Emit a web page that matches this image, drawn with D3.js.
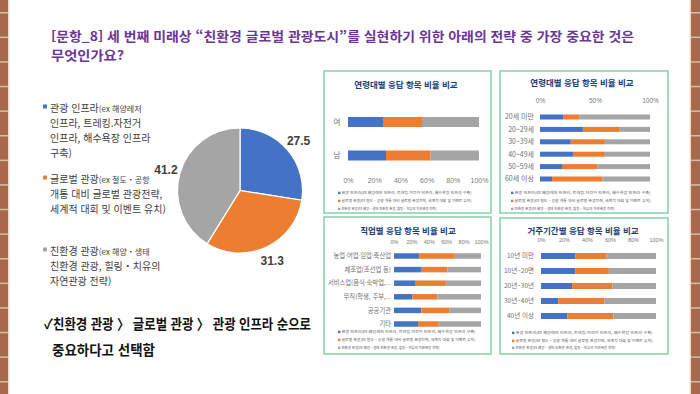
<!DOCTYPE html>
<html lang="ko">
<head>
<meta charset="UTF-8">
<script src="https://d3js.org/d3.v7.min.js"></script>
<style>
    body { margin: 0; background: #fff; }
    svg { display: block; font-family: "Noto Sans CJK KR", "Noto Sans", sans-serif; }
</style>
</head>
<body>
<svg id="slide" width="700" height="394"></svg>
<script>
// ---- data ----
const seriesKeys = ["infra", "global", "eco"];
const seriesColors = ["#4472c4", "#ed7d31", "#a5a5a5"];
const seriesNames = ["관광 인프라", "글로벌 관광", "친환경 관광"];
const seriesSmallLegend = [
    "관광 인프라(ex 해양레저 인프라, 트레킹.자전거 인프라, 해수욕장 인프라 구축)",
    "글로벌 관광(ex 철도・공항 개통 대비 글로벌 관광전략, 세계적 대회 및 이벤트 유치)",
    "친환경 관광(ex 해양・생태 친환경 관광, 힐링・치유의 자연관광 전략)"
];
const legendLines = [
    [["관광 인프라", "(ex 해양레저"], ["인프라, 트레킹.자전거"], ["인프라, 해수욕장 인프라"], ["구축)"]],
    [["글로벌 관광", "(ex 철도・공항"], ["개통 대비 글로벌 관광전략,"], ["세계적 대회 및 이벤트 유치)"]],
    [["친환경 관광", "(ex 해양・생태"], ["친환경 관광, 힐링・치유의"], ["자연관광 전략)"]]
];
const pieValues = [27.5, 31.3, 41.2];

const genderCats = ["여", "남"];
const genderInfra = [26.7, 29];
const genderGlobal = [29.8, 34];
const genderEco = [43.5, 37];

const ageCats = ["20세 미만", "20~29세", "30~39세", "40~49세", "50~59세", "60세 이상"];
const ageInfra = [21, 39, 28, 30, 20, 11];
const ageGlobal = [15, 33.5, 31, 29, 32, 45.5];
const ageEco = [64, 27.5, 41, 41, 48, 43.5];

const jobCats = ["농업·어업·임업·축산업", "제조업(조선업 등)", "서비스업(음식·숙박업,...", "무직(학생, 주부,...", "공공기관", "기타"];
const jobInfra = [29, 31, 25, 21, 31.5, 27.7];
const jobGlobal = [41, 30.5, 34.6, 29, 32.5, 23.8];
const jobEco = [30, 38.5, 40.4, 50, 36, 48.5];

const stayCats = ["10년 미만", "10년~20면", "20년~30년", "30년~40년", "40년 이상"];
const stayInfra = [30, 30, 27, 15, 23];
const stayGlobal = [27, 29, 35, 40, 40];
const stayEco = [43, 41, 38, 45, 37];

const ticks5 = [0, 20, 40, 60, 80, 100];
const ticks2 = [0, 50, 100];

const svg = d3.select("#slide");

// ---- brick side strips ----
[[0, 8], [691, 9]].forEach(([x, w]) => {
    svg.append("rect").attr("x", x).attr("y", 0).attr("width", w).attr("height", 394).attr("fill", "#a7694a");
    svg.selectAll(null).data(d3.range(12, 394, 24.6)).enter().append("rect")
        .attr("x", x).attr("y", d => d).attr("width", w).attr("height", 1.5).attr("fill", "#d9bca8");
});
svg.append("rect").attr("x", 8).attr("y", 0).attr("width", 1.5).attr("height", 394).attr("fill", "#f4dccb");
svg.append("rect").attr("x", 689.5).attr("y", 0).attr("width", 1.5).attr("height", 394).attr("fill", "#f4dccb");

// ---- title ----
const title = svg.append("g").attr("fill", "#6b3599").attr("font-weight", "bold").attr("font-size", 13);
title.append("text").attr("x", 51).attr("y", 41)
    .attr("textLength", 583).attr("lengthAdjust", "spacingAndGlyphs")
    .text("[문항_8] 세 번째 미래상 “친환경 글로벌 관광도시”를 실현하기 위한 아래의 전략 중 가장 중요한 것은");
title.append("text").attr("x", 51).attr("y", 60)
    .attr("textLength", 73).attr("lengthAdjust", "spacingAndGlyphs")
    .text("무엇인가요?");

// ---- left legend ----
const legendTop = [108, 179, 251];
legendLines.forEach((lines, i) => {
    svg.append("rect").attr("x", 43).attr("y", legendTop[i] - 3.5).attr("width", 4).attr("height", 4)
        .attr("fill", seriesColors[i]);
    lines.forEach((parts, j) => {
        const t = svg.append("text").attr("x", 50).attr("y", legendTop[i] + 3.5 + j * 15)
            .attr("font-size", 10).attr("fill", "#404040");
        t.append("tspan").text(parts[0]);
        if (parts[1]) t.append("tspan").attr("font-size", 8).text(parts[1]);
    });
});

// ---- pie ----
const pieG = svg.append("g").attr("transform", "translate(240,190.5)");
const pie = d3.pie().sort(null)(pieValues);
const arc = d3.arc().innerRadius(0).outerRadius(62.5);
const labelArc = d3.arc().innerRadius(77).outerRadius(77);
pieG.selectAll("path").data(pie).enter().append("path")
    .attr("d", arc).attr("fill", (d, i) => seriesColors[i])
    .attr("stroke", "#fff").attr("stroke-width", 1.2);
pieG.selectAll("text").data(pie).enter().append("text")
    .attr("transform", d => `translate(${labelArc.centroid(d)})`)
    .attr("text-anchor", "middle").attr("dy", "0.35em")
    .attr("font-size", 12).attr("font-weight", "bold").attr("fill", "#404040")
    .attr("font-family", "'Liberation Sans', Arial, sans-serif")
    .text(d => d.data);

// ---- conclusion ----
const concl = svg.append("g").attr("font-size", 14).attr("font-weight", "bold").attr("fill", "#111");
concl.append("text").attr("x", 44).attr("y", 329)
    .attr("textLength", 267).attr("lengthAdjust", "spacingAndGlyphs")
    .text("✓친환경 관광 〉 글로벌 관광 〉 관광 인프라 순으로");
concl.append("text").attr("x", 52).attr("y", 355)
    .attr("textLength", 103).attr("lengthAdjust", "spacingAndGlyphs")
    .text("중요하다고 선택함");

// ---- small stacked panels ----
function band(cats, c0, c1, barH) {
    const step = (c1 - c0) / (cats.length - 1);
    const pi = 1 - barH / step;
    return d3.scaleBand().domain(cats).range([c0 - step / 2, c1 + step / 2])
        .paddingInner(pi).paddingOuter(pi / 2);
}

function drawPanel(p) {
    const g = svg.append("g");
    g.append("rect").attr("x", p.box[0]).attr("y", p.box[1]).attr("width", p.box[2]).attr("height", p.box[3])
        .attr("fill", "#fff").attr("stroke", "#86cfa6").attr("stroke-width", 1.5);
    g.append("text").attr("x", p.titleX).attr("y", p.titleY).attr("text-anchor", "middle")
        .attr("font-size", p.titleSize).attr("font-weight", "bold").attr("fill", "#203c78")
        .text(p.title);

    const rows = p.cats.map((c, i) => ({ cat: c, infra: p.infra[i], global: p.global[i], eco: p.eco[i] }));
    const stacked = d3.stack().keys(seriesKeys)(rows);
    const x = d3.scaleLinear().domain([0, 100]).range(p.xRange);
    const y = band(p.cats, p.yFirst, p.yLast, p.barH);

    stacked.forEach((layer, k) => {
        g.selectAll(null).data(layer).enter().append("rect")
            .attr("x", d => x(d[0])).attr("width", d => x(d[1]) - x(d[0]))
            .attr("y", d => y(d.data.cat)).attr("height", y.bandwidth())
            .attr("fill", seriesColors[k]);
    });

    const axis = (p.axisTop ? d3.axisTop(x) : d3.axisBottom(x))
        .tickValues(p.ticks).tickSize(0).tickPadding(0).tickFormat(d => d + "%");
    const ax = g.append("g").attr("transform", `translate(0,${p.axisY})`).call(axis);
    ax.select(".domain").remove();
    ax.selectAll("text").attr("font-size", p.tickSize).attr("fill", "#7a7a7a")
        .attr("font-family", "'Liberation Sans', Arial, sans-serif");

    g.selectAll(null).data(p.cats).enter().append("text")
        .attr("x", p.labelX).attr("y", d => y(d) + y.bandwidth() / 2).attr("dy", "0.35em")
        .attr("text-anchor", p.labelAnchor).attr("font-size", p.labelSize).attr("fill", "#707070")
        .text(d => d);

    seriesSmallLegend.forEach((s, k) => {
        const ly = p.legendY[k];
        g.append("rect").attr("x", p.legendX).attr("y", ly - 1.3).attr("width", 2.4).attr("height", 2.4)
            .attr("fill", seriesColors[k]);
        g.append("text").attr("x", p.legendX + 3.5).attr("y", ly).attr("dy", "0.35em")
            .attr("font-size", 3.8).attr("fill", "#595959")
            .attr("textLength", p.legendLen[k]).attr("lengthAdjust", "spacingAndGlyphs")
            .text(s);
    });
}

drawPanel({
    box: [324, 71, 167, 142], title: "연령대별 응답 항목 비율 비교", titleX: 406, titleY: 88, titleSize: 8.5,
    cats: genderCats, infra: genderInfra, global: genderGlobal, eco: genderEco,
    xRange: [348, 479], yFirst: 122, yLast: 155.5, barH: 10,
    axisTop: false, axisY: 178, ticks: ticks5, tickSize: 7,
    labelX: 337, labelAnchor: "middle", labelSize: 7.5,
    legendX: 338, legendY: [193, 201, 209], legendLen: [130, 130, 95]
});
drawPanel({
    box: [500, 71, 168, 142], title: "연령대별 응답 항목 비율 비교", titleX: 582, titleY: 86, titleSize: 8.5,
    cats: ageCats, infra: ageInfra, global: ageGlobal, eco: ageEco,
    xRange: [540, 650], yFirst: 117, yLast: 179, barH: 5,
    axisTop: true, axisY: 103, ticks: ticks2, tickSize: 6.5,
    labelX: 534, labelAnchor: "end", labelSize: 7,
    legendX: 511, legendY: [193, 201, 209], legendLen: [136, 136, 100]
});
drawPanel({
    box: [324, 217, 167, 137], title: "직업별 응답 항목 비율 비교", titleX: 408, titleY: 234, titleSize: 8.5,
    cats: jobCats, infra: jobInfra, global: jobGlobal, eco: jobEco,
    xRange: [394, 481], yFirst: 256, yLast: 324, barH: 5.5,
    axisTop: true, axisY: 244, ticks: ticks5, tickSize: 5.5,
    labelX: 391, labelAnchor: "end", labelSize: 6.3,
    legendX: 338, legendY: [332, 340, 348], legendLen: [134, 134, 98]
});
drawPanel({
    box: [500, 218, 168, 136], title: "거주기간별 응답 항목 비율 비교", titleX: 583, titleY: 234, titleSize: 8.5,
    cats: stayCats, infra: stayInfra, global: stayGlobal, eco: stayEco,
    xRange: [541, 656], yFirst: 256, yLast: 316, barH: 6,
    axisTop: true, axisY: 242, ticks: ticks5, tickSize: 5.5,
    labelX: 534, labelAnchor: "end", labelSize: 6.5,
    legendX: 512, legendY: [333, 341, 348], legendLen: [137, 137, 100]
});
</script>
</body>
</html>
